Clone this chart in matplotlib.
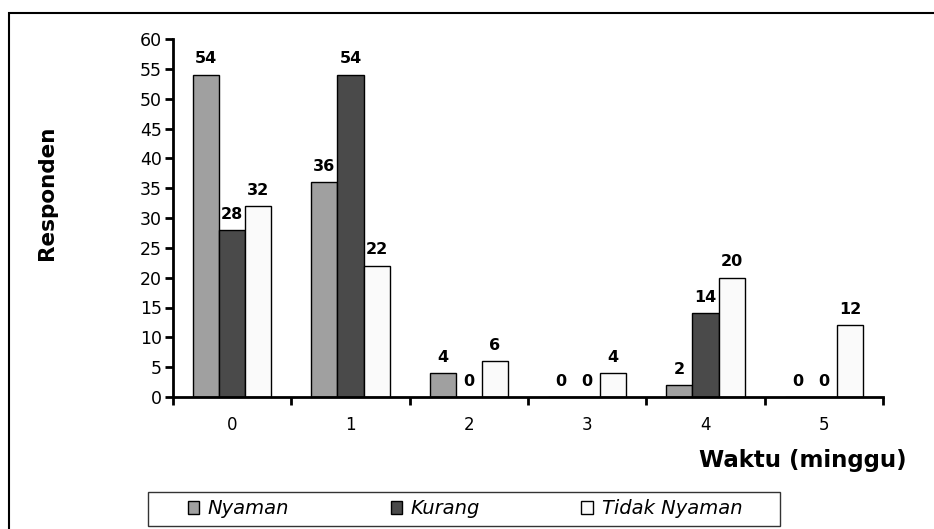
import matplotlib.pyplot as plt
import numpy as np
from matplotlib.patches import Rectangle

weeks = ['0', '1', '2', '3', '4', '5']
nyaman = [54, 36, 4, 0, 2, 0]
kurang = [28, 54, 0, 0, 14, 0]
tidak_nyaman = [32, 22, 6, 4, 20, 12]

series = [('Nyaman', nyaman, '#a0a0a0'),
          ('Kurang', kurang, '#4a4a4a'),
          ('Tidak Nyaman', tidak_nyaman, '#fafafa')]

plt.rcParams['font.family'] = ['DejaVu Sans']

fig = plt.figure(figsize=(9.34, 5.29), dpi=100)
ax = fig.add_axes([173/934, 1-397/529, (883-173)/934, (397-39)/529])

x = np.arange(len(weeks))
w = 0.22
for i, (name, vals, col) in enumerate(series):
    pos = x + (i - 1) * w
    ax.bar(pos, vals, w, color=col, edgecolor='black', linewidth=1, label=name)
    for xp, v in zip(pos, vals):
        ax.annotate(str(v), (xp, v), xytext=(0, 6), textcoords='offset points',
                    ha='center', va='bottom', fontsize=11.5, fontweight='bold')

ax.set_xlim(-0.5, 5.5)
ax.set_ylim(0, 60)
ax.set_yticks(range(0, 61, 5))
ax.set_xticks(np.arange(-0.5, 6, 1))
ax.set_xticklabels([])
ax.set_xticks(x, minor=True)
ax.set_xticklabels(weeks, minor=True)
ax.tick_params(axis='x', which='minor', length=0, pad=14, labelsize=12)
ax.tick_params(axis='x', which='major', length=6, width=2, direction='out')
ax.tick_params(axis='y', length=6, width=2, direction='out', labelsize=12.5, pad=2)
for s in ['top', 'right']:
    ax.spines[s].set_visible(False)
for s in ['left', 'bottom']:
    ax.spines[s].set_linewidth(2)

fig.text(47/934, 1-193/529, 'Responden', rotation=90, ha='center', va='center',
         fontsize=15.5, fontweight='bold')
fig.text(907/934, 1-461/529, 'Waktu (minggu)', ha='right', va='center',
         fontsize=16.5, fontweight='bold')

# legend without its own frame; the box is drawn separately (wider side padding)
leg = fig.legend(loc='center', bbox_to_anchor=(465/934, 1-509/529), ncol=3,
                 frameon=False, fontsize=14,
                 handlelength=0.6, handleheight=0.6, columnspacing=5.2,
                 borderpad=0.25, handletextpad=0.45, borderaxespad=0)
for t in leg.get_texts():
    t.set_fontstyle('italic')

fig.patches.append(Rectangle((148/934, 1-526/529), 632/934, 34/529,
                             transform=fig.transFigure, fill=False,
                             edgecolor='#333333', linewidth=1))
fig.patches.append(Rectangle((9/934, -0.1), 1.2, 1.1 - 13/529, transform=fig.transFigure,
                             fill=False, edgecolor='black', linewidth=1.5))

plt.savefig('out.png', dpi=100)
